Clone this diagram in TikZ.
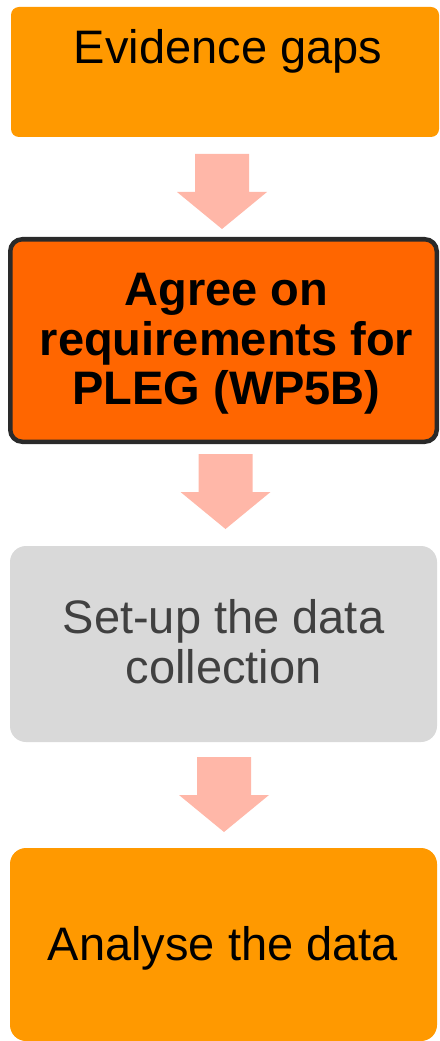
\documentclass[tikz,border=0pt]{standalone}
\usepackage{fontspec}
\setmainfont{Liberation Sans}
\definecolor{orangeA}{HTML}{FF9900}
\definecolor{orangeB}{HTML}{FF6600}
\definecolor{greyBox}{HTML}{D9D9D9}
\definecolor{greyText}{HTML}{404040}
\definecolor{borderDark}{HTML}{2A2A2A}
\definecolor{arrowPink}{HTML}{FFB7A8}
\tikzset{
  stepbox/.style={rectangle, inner sep=0pt, outer sep=0pt, draw=none},
  lbl/.style={anchor=base, inner sep=0pt, font=\fontsize{35.25}{40}\selectfont},
  blockarrow/.style={fill=arrowPink, draw=none}
}
\newcommand\blkarrow[3]{% name, center x, top y
  \coordinate (#1) at (#2,#3);
  \fill[blockarrow] ($(#1)+(-27,0)$) -- ($(#1)+(27,0)$) -- ($(#1)+(27,38)$) -- ($(#1)+(45,38)$)
     -- ($(#1)+(0,75)$) -- ($(#1)+(-45,38)$) -- ($(#1)+(-27,38)$) -- cycle;}
\usetikzlibrary{calc}
\begin{document}
\begin{tikzpicture}[x=0.75pt,y=-0.75pt]
\useasboundingbox (0,0) rectangle (439,1041);
\clip (0,0) rectangle (439,1041);
% boxes
\node[stepbox, fill=orangeA, minimum width=321pt, minimum height=97.5pt, rounded corners=6pt] (b1) at (225,72) {};
\node[stepbox, fill=orangeB, draw=borderDark, line width=3.375pt, minimum width=319.875pt, minimum height=151.875pt, rounded corners=9pt] (b2) at (223.5,340.5) {};
\node[stepbox, fill=greyBox, minimum width=320.25pt, minimum height=147pt, rounded corners=12pt] (b3) at (223.5,644) {};
\node[stepbox, fill=orangeA, minimum width=320.25pt, minimum height=144.75pt, rounded corners=12pt] (b4) at (223.5,944.5) {};
% texts
\node[lbl] (t1) at (228,64) {Evidence gaps};
\node[lbl, font=\fontsize{35.25}{40}\selectfont\bfseries] (t2a) at (226.5,305) {Agree on};
\node[lbl, font=\fontsize{35.25}{40}\selectfont\bfseries] (t2b) at (226.5,355) {requirements for};
\node[lbl, font=\fontsize{35.25}{40}\selectfont\bfseries] (t2c) at (226.5,404) {PLEG (WP5B)};
\node[lbl, text=greyText] (t3a) at (223.5,633) {Set-up the data};
\node[lbl, text=greyText] (t3b) at (223.5,683) {collection};
\node[lbl] (t4) at (223,960) {Analyse the data};
% block arrows
\blkarrow{a1}{222}{154}
\blkarrow{a2}{225.5}{454}
\blkarrow{a3}{224}{757}
\end{tikzpicture}
\end{document}
